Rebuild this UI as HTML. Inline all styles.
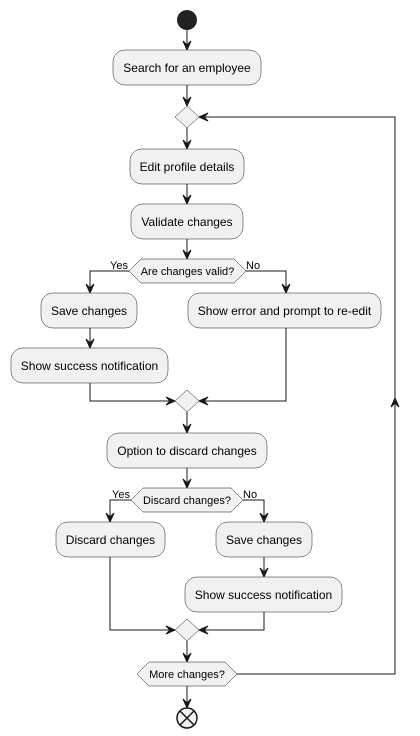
<!DOCTYPE html>
<html><head><meta charset="utf-8"><style>
html,body{margin:0;padding:0;background:#fff;}
svg{display:block}
text{font-family:"Liberation Sans",sans-serif;font-size:12px;fill:#000}
.b{fill:#f1f1f1;stroke:#181818;stroke-width:0.5}
.l{fill:none;stroke:#181818;stroke-width:1}
.a{fill:#181818;stroke:#181818;stroke-width:1}
</style></head><body>
<svg width="420" height="736" viewBox="0 0 420 736">
<circle cx="187" cy="20" r="10" fill="#222"/>
<!-- lines -->
<path class="l" d="M187 30V50 M187 85V106 M187 128V149 M187 184V204 M187 239V259
M129 271H90V293 M246 271H286V293 M90 328V348 M90 383V401H175 M286 328V401H199
M187 412V433 M187 468V488 M131 500H110V522 M243 500H264V522 M264 557V577
M110 557V630H175 M264 612V630H199 M187 641V662 M187 686V708
M237 674H395V117H199"/>
<!-- arrowheads down -->
<g class="a">
<path d="M183 41L187 50L191 41L187 45Z"/>
<path d="M183 97L187 106L191 97L187 101Z"/>
<path d="M183 140L187 149L191 140L187 144Z"/>
<path d="M183 195L187 204L191 195L187 199Z"/>
<path d="M183 250L187 259L191 250L187 254Z"/>
<path d="M86 284L90 293L94 284L90 288Z"/>
<path d="M282 284L286 293L290 284L286 288Z"/>
<path d="M86 339L90 348L94 339L90 343Z"/>
<path d="M183 424L187 433L191 424L187 428Z"/>
<path d="M183 479L187 488L191 479L187 483Z"/>
<path d="M106 513L110 522L114 513L110 517Z"/>
<path d="M260 513L264 522L268 513L264 517Z"/>
<path d="M260 568L264 577L268 568L264 572Z"/>
<path d="M183 653L187 662L191 653L187 657Z"/>
<path d="M183 699L187 708L191 699L187 703Z"/>
<!-- right/left -->
<path d="M166 397L175 401L166 405L170 401Z"/>
<path d="M208 397L199 401L208 405L204 401Z"/>
<path d="M166 626L175 630L166 634L170 630Z"/>
<path d="M208 626L199 630L208 634L204 630Z"/>
<path d="M208 113L199 117L208 121L204 117Z"/>
<!-- up -->
<path d="M391 407L395 398L399 407L395 403Z"/>
</g>
<!-- boxes -->
<rect class="b" x="113" y="50" width="148" height="35" rx="12"/>
<text x="187" y="72" text-anchor="middle">Search for an employee</text>
<polygon class="b" points="187,106 199,117 187,128 175,117"/>
<rect class="b" x="130" y="149" width="114" height="35" rx="12"/>
<text x="187" y="171" text-anchor="middle">Edit profile details</text>
<rect class="b" x="131" y="204" width="112" height="35" rx="12"/>
<text x="187" y="226" text-anchor="middle">Validate changes</text>
<polygon class="b" points="129,271 141,259 234,259 246,271 234,283 141,283"/>
<text x="187.5" y="275" text-anchor="middle" style="font-size:11px">Are changes valid?</text>
<text x="110" y="269" style="font-size:11px">Yes</text>
<text x="246" y="269" style="font-size:11px">No</text>
<rect class="b" x="41" y="293" width="96" height="35" rx="12"/>
<text x="89" y="315" text-anchor="middle">Save changes</text>
<rect class="b" x="188" y="293" width="193" height="35" rx="12"/>
<text x="284.5" y="315" text-anchor="middle">Show error and prompt to re-edit</text>
<rect class="b" x="11" y="348" width="157" height="35" rx="12"/>
<text x="89.5" y="370" text-anchor="middle">Show success notification</text>
<polygon class="b" points="187,390 199,401 187,412 175,401"/>
<rect class="b" x="107" y="433" width="160" height="35" rx="12"/>
<text x="187" y="455" text-anchor="middle">Option to discard changes</text>
<polygon class="b" points="131,500 143,488 231,488 243,500 231,512 143,512"/>
<text x="187" y="504" text-anchor="middle" style="font-size:11px">Discard changes?</text>
<text x="112" y="498" style="font-size:11px">Yes</text>
<text x="243" y="498" style="font-size:11px">No</text>
<rect class="b" x="56" y="522" width="109" height="35" rx="12"/>
<text x="110.5" y="544" text-anchor="middle">Discard changes</text>
<rect class="b" x="216" y="522" width="96" height="35" rx="12"/>
<text x="264" y="544" text-anchor="middle">Save changes</text>
<rect class="b" x="185" y="577" width="157" height="35" rx="12"/>
<text x="263.5" y="599" text-anchor="middle">Show success notification</text>
<polygon class="b" points="187,619 199,630 187,641 175,630"/>
<polygon class="b" points="137,674 149,662 225,662 237,674 225,686 149,686"/>
<text x="187" y="678" text-anchor="middle" style="font-size:11px">More changes?</text>
<circle cx="187" cy="718" r="10" fill="#f1f1f1" stroke="#181818" stroke-width="1.5"/>
<path d="M180 711L194 725M194 711L180 725" stroke="#181818" stroke-width="1.5"/>
</svg>
</body></html>
